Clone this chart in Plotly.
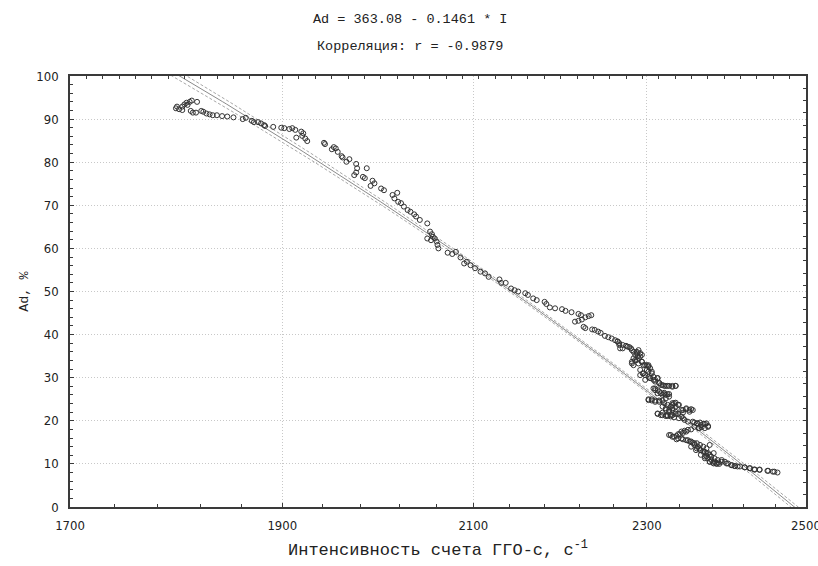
import numpy as np
import plotly.graph_objects as go

# ---------------- data ----------------
intercept = 363.08
slope = -0.1461

x_ticks = [1700, 1900, 2100, 2300, 2500]
x_minor = [1740, 1780, 1820, 1860, 1940, 1980, 2020, 2060, 2140, 2180, 2220, 2260,
           2340, 2380, 2420, 2460]

intensity = [
    1797, 1800, 1803, 1805, 1807, 1810, 1812, 1803, 1798, 1808, 1817, 1811, 1813, 1816,
    1821, 1823, 1826, 1829, 1832, 1836, 1841, 1846, 1852, 1861, 1864, 1870, 1872, 1876,
    1879, 1882, 1883, 1891, 1899, 1902, 1907, 1910, 1913, 1919, 1921, 1920, 1923, 1925,
    1914, 1942, 1943, 1952, 1954, 1950, 1956, 1960, 1961, 1965, 1968, 1975, 1976, 1975,
    1973, 1986, 1982, 1984, 1992, 1994, 1990, 2001, 2004, 2013, 2015, 2018, 2019, 2022,
    2025, 2029, 2032, 2036, 2038, 2042, 2050, 2050,
    2053, 2055, 2056, 2058, 2054, 2060, 2061, 2062, 2072, 2077, 2081, 2086, 2090, 2093,
    2097, 2102, 2108, 2113, 2117, 2129, 2131, 2136, 2142, 2146, 2150, 2158, 2161, 2167,
    2171, 2180, 2182, 2186, 2192, 2200, 2204, 2211, 2219, 2222, 2215, 2219, 2223, 2227,
    2231, 2234, 2225, 2227, 2235, 2238, 2242, 2245, 2250, 2254, 2258, 2262, 2265, 2267,
    2268, 2271, 2277, 2281, 2284, 2288, 2289, 2292, 2286, 2282, 2284, 2290, 2294, 2296,
    2300, 2302, 2292, 2295, 2298, 2302, 2304, 2306, 2308, 2310, 2313, 2315, 2317, 2321,
    2325, 2331, 2335, 2308, 2310, 2313, 2319, 2321, 2325, 2302, 2306, 2310, 2315, 2321,
    2325, 2329, 2331, 2333, 2338, 2323, 2327, 2331, 2335, 2342, 2348, 2354, 2319, 2325,
    2329, 2333, 2339, 2346, 2350, 2358, 2362, 2366, 2371, 2375, 2371, 2364, 2358, 2354,
    2329, 2333, 2338, 2342, 2346, 2350, 2338, 2344, 2350, 2354, 2358, 2362, 2364, 2366,
    2371, 2375, 2379, 2383, 2387, 2392, 2385, 2389, 2398, 2404, 2408, 2412, 2421, 2427,
    2433, 2440, 2450, 2457, 2463, 2358, 2354, 2360, 2366, 2373, 2377, 2381, 2371,
    2265, 2267, 2271, 2275, 2279, 2282, 2288, 2290, 2292, 2294, 2286, 2284, 2282, 2288,
    2290, 2294, 2298, 2302, 2304, 2300, 2302, 2292, 2296, 2306, 2308, 2310, 2313, 2304,
    2298, 2315, 2319, 2323, 2327, 2331, 2335, 2310, 2313, 2315, 2317, 2321, 2323, 2327,
    2302, 2306, 2310, 2315, 2319, 2323, 2327, 2331, 2335, 2319, 2323, 2327, 2331, 2335,
    2339, 2344, 2348, 2352, 2356, 2313, 2317, 2323, 2329, 2335, 2342, 2344,
    2313, 2319, 2325, 2331, 2338, 2344, 2352, 2356, 2361, 2365, 2369, 2373, 2375, 2363,
    2367, 2327, 2331, 2336, 2340, 2344, 2348, 2336, 2342, 2348, 2352, 2356, 2361, 2365,
    2369, 2373, 2377, 2361, 2365, 2369, 2373, 2377, 2382, 2371, 2375, 2379, 2383, 2388,
    2392, 2396, 2400, 2405, 2409, 2415, 2421, 2428, 2434, 2440, 2451, 2459, 2377, 2382,
    2386,
]

ash = [
    92.5, 92.3, 92.9, 93.4, 93.8, 94.0, 94.3, 92.1, 92.9, 93.3, 94.0, 91.9, 91.5, 91.5,
    91.9, 91.7, 91.3, 91.1, 90.9, 90.9, 90.7, 90.6, 90.4, 90.0, 90.3, 89.6, 89.3, 89.3,
    89.0, 88.6, 88.4, 88.2, 88.0, 87.9, 87.7, 87.9, 87.5, 87.1, 86.7, 86.1, 85.5, 84.9,
    85.7, 84.5, 84.2, 83.5, 83.2, 83.0, 82.4, 81.4, 81.1, 80.1, 80.7, 79.6, 78.6, 77.6,
    77.0, 78.6, 76.6, 76.3, 75.7, 75.1, 74.5, 73.9, 73.5, 72.4, 71.6, 72.9, 70.8, 70.5,
    69.7, 68.9, 68.5, 67.9, 67.4, 66.6, 65.8, 62.3,
    63.9, 63.3, 62.7, 62.3, 61.9, 61.6, 60.8, 60.0, 59.0, 58.7, 59.2, 57.9, 56.5, 56.9,
    56.1, 55.4, 54.6, 54.2, 53.4, 52.8, 52.0, 52.0, 50.7, 50.3, 50.0, 49.6, 49.2, 48.4,
    48.0, 47.6, 47.1, 46.3, 46.1, 45.9, 45.5, 45.2, 44.8, 44.5, 43.0, 43.2, 43.5, 44.0,
    44.3, 44.5, 41.8, 41.5, 41.2, 41.1, 40.7, 40.4, 39.7, 39.4, 39.1, 38.7, 38.4, 38.0,
    36.8, 37.6, 37.2, 36.8, 36.0, 35.7, 35.0, 34.9, 34.1, 33.7, 32.9, 34.5, 33.7, 32.9,
    32.9, 32.6, 31.8, 31.0, 30.6, 30.2, 29.9, 31.4, 29.5, 29.1, 29.9, 28.7, 28.3, 28.1,
    28.1, 27.9, 28.1, 27.5, 27.1, 26.4, 26.0, 26.2, 26.2, 25.0, 24.7, 24.4, 24.7, 24.1,
    23.7, 23.3, 23.7, 24.1, 23.7, 22.5, 22.1, 22.5, 22.1, 22.5, 22.7, 22.7, 21.9, 21.3,
    21.0, 20.8, 20.6, 20.2, 19.8, 19.6, 19.4, 19.0, 19.3, 18.6, 18.3, 18.3, 18.6, 18.0,
    16.7, 16.3, 16.9, 17.5, 17.7, 17.9, 15.9, 15.7, 15.5, 15.2, 14.8, 14.0, 13.6, 13.2,
    12.8, 12.5, 11.7, 11.3, 10.9, 10.5, 10.1, 10.0, 10.1, 9.7, 9.5, 9.4, 9.2, 9.0,
    8.7, 8.7, 8.4, 8.2, 8.0, 14.4, 14.0, 13.2, 12.1, 11.8, 10.5, 10.3, 11.3,
    38.4, 37.6, 36.8, 37.4, 37.1, 36.4, 36.0, 36.4, 35.7, 35.3, 35.3, 34.5, 33.3, 34.1,
    33.3, 33.7, 32.9, 32.9, 32.2, 31.8, 31.4, 30.6, 31.0, 31.0, 30.2, 29.5, 29.9, 29.9,
    29.5, 28.8, 28.3, 28.1, 28.1, 28.1, 28.1, 27.5, 27.1, 26.8, 26.4, 26.5, 26.0, 26.2,
    24.8, 25.0, 24.7, 24.4, 24.7, 25.2, 25.6, 24.1, 24.2, 23.3, 22.9, 22.5, 22.9, 23.3,
    23.7, 22.5, 22.9, 22.5, 22.5, 21.6, 21.3, 21.1, 21.3, 21.6, 21.0, 20.6,
    21.7, 21.3, 21.1, 21.3, 21.6, 21.9, 22.1, 19.8, 19.4, 19.6, 19.3, 19.4, 18.8, 18.3,
    18.5, 16.7, 16.3, 16.5, 16.9, 17.2, 17.5, 15.7, 15.9, 15.5, 15.2, 14.9, 14.8, 14.4,
    14.0, 13.6, 14.4, 13.6, 13.2, 12.8, 12.5, 12.1, 12.5, 11.7, 11.3, 10.9, 10.5, 10.3,
    10.9, 10.5, 10.1, 9.7, 9.5, 9.4, 9.2, 9.0, 8.7, 8.6, 8.4, 8.2, 10.5, 10.1,
    10.0,
]

# ---------------- regression line with 95% confidence band ----------------
xi = np.array(intensity, dtype=float)
yi = np.array(ash, dtype=float)
n = len(xi)
resid = yi - (intercept + slope * xi)
s = np.sqrt(np.sum(resid ** 2) / (n - 2))
xm = xi.mean()
sxx = np.sum((xi - xm) ** 2)

xl = np.linspace(1780, 2500, 200)
yl = intercept + slope * xl
se = s * np.sqrt(1.0 / n + (xl - xm) ** 2 / sxx)
upper = yl + 1.97 * se
lower = yl - 1.97 * se

axis_col = "#3a3a3a"
grid_col = "#c8c8c8"
tick_font = dict(family="Liberation Sans Narrow, DejaVu Sans Condensed, Arial Narrow, Liberation Sans",
                 size=13, color="#222")
mono = "Liberation Mono, DejaVu Sans Mono, monospace"

fig = go.Figure()
fig.add_trace(go.Scatter(x=xl, y=upper, mode="lines", line=dict(color="#a8a8a8", width=1, dash="3px,2px"),
                         hoverinfo="skip", showlegend=False))
fig.add_trace(go.Scatter(x=xl, y=lower, mode="lines", line=dict(color="#a8a8a8", width=1, dash="3px,2px"),
                         hoverinfo="skip", showlegend=False))
fig.add_trace(go.Scatter(x=xl, y=yl, mode="lines", line=dict(color="#8a8a8a", width=1),
                         hoverinfo="skip", showlegend=False))
fig.add_trace(go.Scatter(x=intensity, y=ash, mode="markers",
                         marker=dict(symbol="circle-open", size=5, color="#333333",
                                     line=dict(width=1, color="#333333")),
                         showlegend=False))
# invisible trace for the mirrored frame axes (top / right)
fig.add_trace(go.Scatter(x=[None], y=[None], xaxis="x2", yaxis="y2", mode="markers",
                         hoverinfo="skip", showlegend=False))

eps = 1e-5
fig.update_layout(
    width=818, height=566,
    margin=dict(l=70, r=12, t=76, b=59, autoexpand=False),
    paper_bgcolor="white", plot_bgcolor="white",
    xaxis=dict(type="log", range=[np.log10(1700) - eps, np.log10(2500) + eps],
               tickmode="array", tickvals=x_ticks, ticktext=[str(v) for v in x_ticks],
               ticks="inside", ticklen=4, tickcolor=axis_col, tickfont=tick_font,
               ticklabelstandoff=6, automargin=False, ticklabeloverflow="allow",
               showline=True, linecolor=axis_col, linewidth=1.5,
               showgrid=True, gridcolor=grid_col, griddash="1px,2px", gridwidth=1,
               zeroline=False,
               minor=dict(tickmode="array", tickvals=x_minor, ticks="inside", ticklen=3,
                          tickcolor=axis_col, showgrid=False)),
    yaxis=dict(range=[0, 100], tickmode="linear", tick0=0, dtick=10,
               ticks="inside", ticklen=4, tickcolor=axis_col, tickfont=tick_font,
               ticklabelstandoff=7, automargin=False, ticklabeloverflow="allow",
               showline=True, linecolor=axis_col, linewidth=1.5,
               showgrid=True, gridcolor=grid_col, griddash="1px,2px", gridwidth=1,
               zeroline=False,
               minor=dict(dtick=2, ticks="inside", ticklen=3, tickcolor=axis_col, showgrid=False)),
    xaxis2=dict(overlaying="x", side="top", anchor="y2", range=[0, 45], tickmode="linear", dtick=1,
                ticks="inside", ticklen=3, tickcolor=axis_col, showticklabels=False, automargin=False,
                showline=True, linecolor=axis_col, linewidth=1.5, showgrid=False, zeroline=False),
    yaxis2=dict(overlaying="y", side="right", anchor="x2", range=[0, 35], tickmode="linear", dtick=1,
                ticks="inside", ticklen=3, tickcolor=axis_col, showticklabels=False, automargin=False,
                showline=True, linecolor=axis_col, linewidth=1.5, showgrid=False, zeroline=False),
    annotations=[
        dict(text="Ad = 363.08 - 0.1461 * I", xref="paper", yref="paper", x=0.462, y=1.130,
             xanchor="center", yanchor="middle", showarrow=False,
             font=dict(family=mono, size=13.5, color="#222")),
        dict(text="Корреляция: r = -0.9879", xref="paper", yref="paper", x=0.462, y=1.0696,
             xanchor="center", yanchor="middle", showarrow=False,
             font=dict(family=mono, size=13.5, color="#222")),
        dict(text="Интенсивность счета ГГО-с, с<sup>-1</sup>", xref="paper", yref="paper",
             x=0.50, y=-0.097, xanchor="center", yanchor="middle", showarrow=False,
             font=dict(family=mono, size=17, color="#222")),
        dict(text="Ad, %", xref="paper", yref="paper", x=-0.062, y=0.5, textangle=-90,
             xanchor="center", yanchor="middle", showarrow=False,
             font=dict(family=mono, size=13.5, color="#222")),
    ],
)

fig.write_html("out.html", config={"displayModeBar": False},
               post_script="document.body.style.margin='0';document.body.style.padding='0';")
